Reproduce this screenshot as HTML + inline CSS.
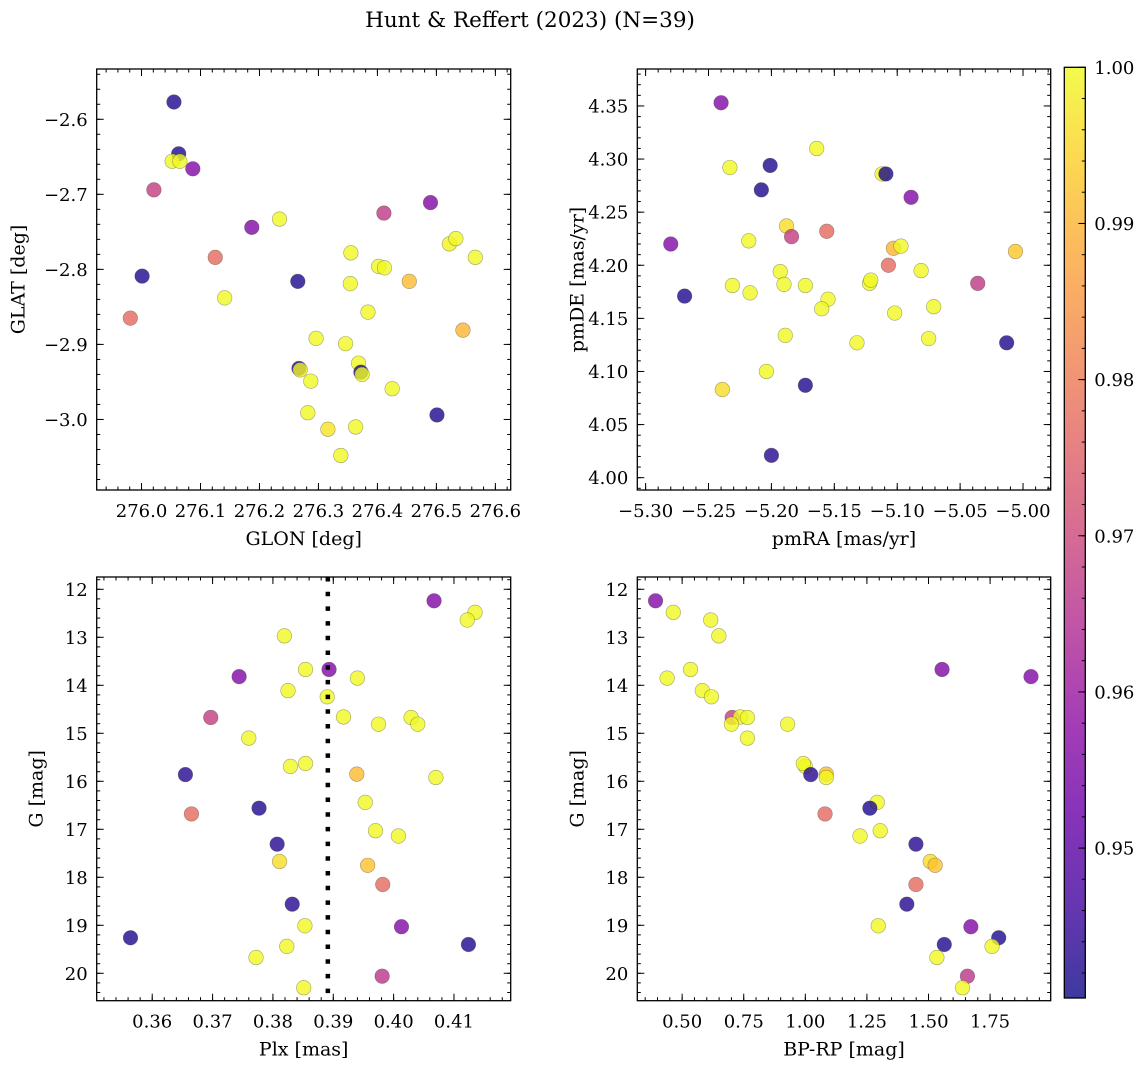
<!DOCTYPE html>
<html><head><meta charset="utf-8"><style>
html,body{margin:0;padding:0;background:#fff;}
svg{display:block;font-family:"DejaVu Serif","Liberation Serif",serif;}
</style></head><body>
<svg id="fig" width="1148" height="1067" viewBox="0 0 1148 1067">
<text x="530" y="27" text-anchor="middle" font-size="21.5">Hunt &amp; Reffert (2023) (N=39)</text>
</svg>
<script>
// Panel 1: GLON / GLAT
const glon = [276.055,276.063,276.052,276.065,276.087,276.021,276.001,275.981,276.125,276.141,276.187,276.234,276.265,276.267,276.269,276.287,276.296,276.282,276.316,276.338,276.346,276.355,276.354,276.368,276.372,276.374,276.363,276.384,276.402,276.412,276.411,276.425,276.454,276.490,276.501,276.522,276.533,276.545,276.566];
const glat = [-2.577,-2.646,-2.656,-2.656,-2.666,-2.694,-2.809,-2.865,-2.784,-2.838,-2.744,-2.733,-2.816,-2.932,-2.934,-2.949,-2.892,-2.991,-3.013,-3.048,-2.899,-2.778,-2.819,-2.925,-2.937,-2.940,-3.010,-2.857,-2.796,-2.798,-2.725,-2.959,-2.816,-2.711,-2.994,-2.766,-2.759,-2.881,-2.784];
const prob1 = [0.942,0.942,1,1,0.956,0.968,0.942,0.977,0.977,1,0.956,1,0.942,0.942,0.999,1,1,1,0.997,1,1,1,1,1,0.942,1,1,1,1,1,0.967,1,0.991,0.956,0.942,0.999,1,0.990,1];
// Panel 2: pmRA / pmDE
const pmra = [-5.240,-5.164,-5.233,-5.201,-5.208,-5.112,-5.109,-5.089,-5.280,-5.188,-5.184,-5.156,-5.218,-5.103,-5.097,-5.006,-5.107,-5.193,-5.081,-5.036,-5.231,-5.190,-5.173,-5.122,-5.121,-5.269,-5.217,-5.155,-5.160,-5.071,-5.102,-5.075,-5.013,-5.189,-5.132,-5.204,-5.173,-5.239,-5.200];
const pmde = [4.353,4.310,4.292,4.294,4.271,4.286,4.286,4.264,4.220,4.237,4.227,4.232,4.223,4.216,4.218,4.213,4.200,4.194,4.195,4.183,4.181,4.182,4.181,4.183,4.186,4.171,4.174,4.168,4.159,4.161,4.155,4.131,4.127,4.134,4.127,4.100,4.087,4.083,4.021];
const prob2 = [0.956,1,1,0.942,0.942,1,0.942,0.956,0.956,0.996,0.968,0.977,1,0.990,1,0.993,0.977,1,1,0.967,1,1,1,1,1,0.942,1,1,1,1,1,1,0.942,1,1,1,0.942,0.996,0.943];
// Panels 3 & 4: Plx, BP-RP, G
const gmag = [12.24,12.48,12.64,12.97,13.67,13.67,13.82,13.85,14.11,14.24,14.67,14.66,14.81,14.67,14.81,15.10,15.69,15.63,15.86,15.85,15.92,16.44,16.56,16.68,17.03,17.14,17.31,17.67,17.75,18.15,18.56,19.01,19.03,19.26,19.40,19.44,19.67,20.06,20.30];
const plx = [0.4067,0.4135,0.4122,0.3819,0.3854,0.3893,0.3744,0.3940,0.3825,0.3890,0.3697,0.3917,0.3975,0.4029,0.4040,0.3760,0.3829,0.3854,0.3655,0.3939,0.4070,0.3953,0.3777,0.3665,0.3970,0.4008,0.3807,0.3811,0.3957,0.3982,0.3832,0.3853,0.4013,0.3564,0.4124,0.3823,0.3772,0.3981,0.3851];
const bprp = [0.392,0.464,0.616,0.649,0.534,1.555,1.916,0.439,0.582,0.619,0.703,0.736,0.700,0.765,0.928,0.765,1.000,0.992,1.022,1.085,1.085,1.292,1.262,1.080,1.304,1.222,1.449,1.507,1.527,1.449,1.412,1.296,1.672,1.785,1.564,1.758,1.534,1.658,1.638];
const prob34 = [0.956,1,1,1,1,0.956,0.956,1,1,1,0.968,1,1,1,1,1,1,1,0.943,0.991,1,1,0.942,0.977,1,1,0.943,0.996,0.992,0.977,0.943,1,0.956,0.942,0.942,1,1,0.966,1];
const plxCut = [0.3891];
// Tick values
const p1xTicks = [276.0,276.1,276.2,276.3,276.4,276.5,276.6];
const p1yTicks = [-3.0,-2.9,-2.8,-2.7,-2.6];
const p2xTicks = [-5.30,-5.25,-5.20,-5.15,-5.10,-5.05,-5.00];
const p2yTicks = [4.00,4.05,4.10,4.15,4.20,4.25,4.30,4.35];
const p3xTicks = [0.36,0.37,0.38,0.39,0.40,0.41];
const gTicks = [12,13,14,15,16,17,18,19,20];
const p4xTicks = [0.50,0.75,1.00,1.25,1.50,1.75];
const cbTicks = [0.95,0.96,0.97,0.98,0.99,1.00];

const NS = "http://www.w3.org/2000/svg";
const svg = document.getElementById('fig');
const FS = 18;
const LFS = 19;
const VMIN = 0.9404, VMAX = 1.0;
const plasmaStops = ["#0d0887","#41049d","#6a00a8","#8f0da4","#b12a90","#cc4778","#e16462","#f2844b","#fca636","#fcce25","#f0f921"];
function hex(h){return [parseInt(h.slice(1,3),16),parseInt(h.slice(3,5),16),parseInt(h.slice(5,7),16)];}
function plasma(v){
  let t=(v-VMIN)/(VMAX-VMIN); t=Math.max(0,Math.min(1,t));
  const f=t*10, i=Math.min(9,Math.floor(f)), r=f-i;
  const a=hex(plasmaStops[i]), b=hex(plasmaStops[i+1]);
  return 'rgb('+a.map((c,k)=>Math.round(c+(b[k]-c)*r)).join(',')+')';
}
function el(tag, attrs, parent){
  const e=document.createElementNS(NS,tag);
  for(const k in attrs) e.setAttribute(k,attrs[k]);
  (parent||svg).appendChild(e); return e;
}
function fmt(v,d){ const s=Math.abs(v).toFixed(d); return (v<0?'\u2212':'')+s; }

function panel(cfg){
  const g=el('g',{});
  
  
  const {L,R,T,B,xlim,ylim,yinv}=cfg;
  const sx=v=>L+(v-xlim[0])/(xlim[1]-xlim[0])*(R-L);
  const sy=v=> yinv ? T+(v-ylim[0])/(ylim[1]-ylim[0])*(B-T) : B-(v-ylim[0])/(ylim[1]-ylim[0])*(B-T);
  const ym0=Math.min(ylim[0],ylim[1]), ym1=Math.max(ylim[0],ylim[1]);
  const tk=el('g',{stroke:'#000','stroke-width':1},g);
  
  
  for(let v=Math.ceil(xlim[0]/cfg.xminor)*cfg.xminor; v<=xlim[1]; v+=cfg.xminor){
    const x=sx(v); el('line',{x1:x,x2:x,y1:B,y2:B-3.5},tk); el('line',{x1:x,x2:x,y1:T,y2:T+3.5},tk);
  }
  for(let v=Math.ceil(ym0/cfg.yminor)*cfg.yminor; v<=ym1; v+=cfg.yminor){
    const y=sy(v); el('line',{x1:L,x2:L+3.5,y1:y,y2:y},tk); el('line',{x1:R,x2:R-3.5,y1:y,y2:y},tk);
  }
  cfg.xticks.forEach(v=>{
    const x=sx(v); el('line',{x1:x,x2:x,y1:B,y2:B-7},tk); el('line',{x1:x,x2:x,y1:T,y2:T+7},tk);
    const t=el('text',{x:x,y:B+27,'text-anchor':'middle','font-size':FS},g);
    t.textContent=fmt(v,cfg.xd);
    
    
  });
  cfg.yticks.forEach(v=>{
    const y=sy(v); el('line',{x1:L,x2:L+7,y1:y,y2:y},tk); el('line',{x1:R,x2:R-7,y1:y,y2:y},tk);
    const t=el('text',{x:L-9,y:y+6.5,'text-anchor':'end','font-size':FS},g);
    t.textContent=fmt(v,cfg.yd);
    
    
  });
  const xl=el('text',{x:(L+R)/2,y:B+55,'text-anchor':'middle','font-size':LFS},g);
  xl.textContent=cfg.xlabel;
  
  
  const yx=L-cfg.ylabOff, yy=(T+B)/2;
  const yl=el('text',{x:yx,y:yy,'text-anchor':'middle','font-size':LFS,transform:'rotate(-90 '+yx+' '+yy+')'},g);
  yl.textContent=cfg.ylabel;
  
  
  cfg.xs.forEach((xv,i)=>{
    const c=el('circle',{cx:sx(xv),cy:sy(cfg.ys[i]),r:7.3,fill:plasma(cfg.p[i]),'fill-opacity':0.8,stroke:'rgba(60,60,40,0.45)','stroke-width':0.6},g);
    
    
  });
  if(cfg.vline){
    cfg.vline.forEach(v=>{
      const ln=el('line',{x1:sx(v),x2:sx(v),y1:T,y2:B,stroke:'#000','stroke-width':4.5,'stroke-dasharray':'4.5 10.2'},g);
      
      
    });
  }
  const fr=el('rect',{x:L,y:T,width:R-L,height:B-T,fill:'none',stroke:'#000','stroke-width':1.3},g);
  
  
}

panel({name:'glon-glat-panel',L:96.7,R:510.7,T:69,B:490,xlim:[275.924,276.626],ylim:[-3.094,-2.533],
  xticks:p1xTicks,yticks:p1yTicks,xminor:0.02,yminor:0.02,xd:1,yd:1,xlabel:'GLON [deg]',ylabel:'GLAT [deg]',ylabOff:72,
  xs:glon,ys:glat,p:prob1});
panel({name:'proper-motion-panel',L:637.3,R:1050.7,T:69,B:490,xlim:[-5.3066,-4.978],ylim:[3.9884,4.3848],
  xticks:p2xTicks,yticks:p2yTicks,xminor:0.01,yminor:0.01,xd:2,yd:2,xlabel:'pmRA [mas/yr]',ylabel:'pmDE [mas/yr]',ylabOff:54,
  xs:pmra,ys:pmde,p:prob2});
panel({name:'parallax-magnitude-panel',L:96.7,R:510.7,T:577,B:1000.7,xlim:[0.3508,0.4194],ylim:[11.744,20.571],yinv:true,
  xticks:p3xTicks,yticks:gTicks,xminor:0.002,yminor:0.2,xd:2,yd:0,xlabel:'Plx [mas]',ylabel:'G [mag]',ylabOff:54,
  xs:plx,ys:gmag,p:prob34,vline:plxCut});
panel({name:'color-magnitude-panel',L:637.3,R:1050.7,T:577,B:1000.7,xlim:[0.318,1.996],ylim:[11.744,20.571],yinv:true,
  xticks:p4xTicks,yticks:gTicks,xminor:0.05,yminor:0.2,xd:2,yd:0,xlabel:'BP-RP [mag]',ylabel:'G [mag]',ylabOff:54,
  xs:bprp,ys:gmag,p:prob34});

// Colorbar
(function(){
  const L=1064.3,R=1085.3,T=67.3,B=998;
  const cb=el('g',{});
  
  
  const defs=el('defs',{},cb);
  const lg=el('linearGradient',{id:'plasmaGrad',x1:0,y1:1,x2:0,y2:0},defs);
  plasmaStops.forEach((c,i)=>el('stop',{offset:(i/10),'stop-color':c},lg));
  el('rect',{x:L,y:T,width:R-L,height:B-T,fill:'url(#plasmaGrad)','fill-opacity':0.8},cb);
  const sy=v=>B-(v-VMIN)/(VMAX-VMIN)*(B-T);
  for(let v=0.942; v<1.0001; v+=0.002){ const y=sy(v); el('line',{x1:R,x2:R-3.5,y1:y,y2:y,stroke:'#000','stroke-width':1},cb); }
  cbTicks.forEach(v=>{
    const y=sy(v); el('line',{x1:R,x2:R-7,y1:y,y2:y,stroke:'#000','stroke-width':1},cb);
    const t=el('text',{x:R+9,y:y+6.5,'font-size':FS},cb);
    t.textContent=v.toFixed(2);
    
    
  });
  el('rect',{x:L,y:T,width:R-L,height:B-T,fill:'none',stroke:'#000','stroke-width':1.3},cb);
})();
</script>
</body></html>
